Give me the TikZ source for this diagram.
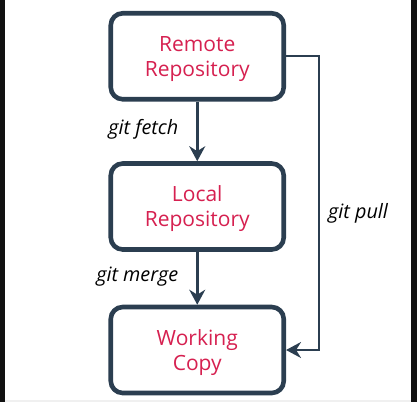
\documentclass[tikz,border=0pt]{standalone}
\usepackage{fontspec}
\setmainfont{Open Sans}
\usetikzlibrary{arrows.meta}
\definecolor{boxline}{HTML}{2B3E50}
\definecolor{boxtext}{HTML}{D62050}
\definecolor{frame}{HTML}{111111}
\tikzset{
  x=1bp, y=1bp,
  repobox/.style={draw=boxline, line width=4.6bp, rounded corners=12bp, fill=white,
    minimum width=173bp, minimum height=86bp, align=center, text=boxtext,
    font=\fontsize{21bp}{25bp}\selectfont, inner sep=0pt, text depth=0pt},
  flow/.style={draw=boxline, line width=3bp, -{Stealth[length=15bp, width=16bp, inset=5bp]}},
  pullflow/.style={draw=boxline, line width=2.2bp, -{Stealth[length=15bp, width=16bp, inset=5bp]}},
  cmdlabel/.style={font=\fontsize{19.8bp}{22bp}\selectfont\itshape, text=black, inner sep=0pt}
}
\begin{document}
\begin{tikzpicture}
\useasboundingbox (0,0) rectangle (417,-402);
\fill[frame] (0,0) rectangle (5,-402);
\fill[frame] (411,0) rectangle (417,-402);
\fill[black!6] (5,-400) rectangle (411,-402);
\node[repobox] (remote) at (197.25,-56.25) {Remote\\Repository};
\node[repobox] (local) at (197.25,-206.5) {Local\\Repository};
\node[repobox] (work) at (197.25,-350) {Working\\Copy};
\coordinate (pc) at (319,-350);
\draw[flow] (remote) -- (local);
\draw[flow] (local) -- (work);
\draw[pullflow] (remote.east) -| (pc) |- (work.east);
\node[cmdlabel, anchor=east] (fetch) at (178.5,-129) {git fetch};
\node[cmdlabel, anchor=east] (merge) at (178.5,-277) {git merge};
\node[cmdlabel, anchor=west] (pull) at (328,-213) {git pull};
\end{tikzpicture}
\end{document}
